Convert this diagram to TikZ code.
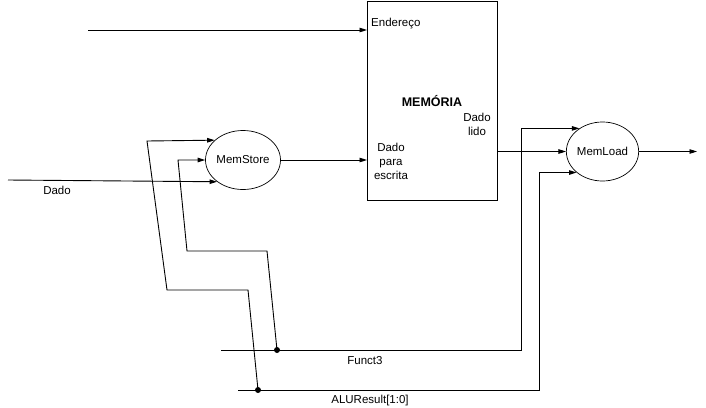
\documentclass[tikz,border=0pt]{standalone}
\usepackage{fontspec}
\setmainfont{Liberation Sans}
\usetikzlibrary{arrows.meta,shapes.geometric}
\begin{document}
\begin{tikzpicture}[x=1pt,y=-1pt,
 line/.style={draw=black,line width=0.9pt},
 arr/.style={line,-{Triangle[length=7.5pt,width=4.5pt]}},
 oval/.style={ellipse,draw,line width=0.7pt,minimum width=71pt,minimum height=59pt,inner sep=0pt,font=\fontsize{11.5}{13.5}\selectfont},
 lbl/.style={font=\fontsize{11.5}{14}\selectfont,inner sep=0pt,align=center},
 dot/.style={circle,fill=black,inner sep=0pt,minimum size=6pt}]
\useasboundingbox (0,0) rectangle (706,407);
% memory block
\node[draw,line width=0.9pt,minimum width=130pt,minimum height=199pt,inner sep=0pt,anchor=north west] (mem) at (367,1) {};
\node[lbl,anchor=west] (endt) at (371,24) {Endereço};
\node[lbl,font=\bfseries\fontsize{12.5}{14}\selectfont] (memt) at (432,101) {MEMÓRIA};
\node[lbl] (dl) at (477,124.5) {Dado\\lido};
\node[lbl] (dpe) at (391,161) {Dado\\para\\escrita};
% ellipses
\node[oval] (ms) at (243,160) {MemStore};
\node[oval] (ml) at (602.5,151.5) {MemLoad};
% coordinates
\coordinate (ein) at (88,30);
\coordinate (din) at (8,180);
\coordinate (a0) at (147,141);
\coordinate (a1) at (167,290);
\coordinate (a2) at (248,290);
\coordinate (b0) at (178,160);
\coordinate (b1) at (187,251);
\coordinate (b2) at (267,251);
\coordinate (f0) at (221,350);
\coordinate (f1) at (521,350);
\coordinate (g0) at (238,390);
\coordinate (g1) at (539,390);
\coordinate (out) at (697,151.5);
\node[dot] (dA) at (258,390) {};
\node[dot] (dB) at (277,350) {};
% connectors
\draw[arr] (ein) -- (ein -| mem.west);
\draw[arr] (din) -- (ms.220);
\draw[arr] (dA.center) -- (a2) -- (a1) -- (a0) -- (ms.145);
\draw[arr] (dB.center) -- (b2) -- (b1) -- (b0) -- (ms.west);
\draw[arr] (ms.east) -- (ms.east -| mem.west);
\draw[arr] (mem.east |- ml.west) -- (ml.west);
\draw[arr] (f0) -- (f1) -- (f1 |- ml.135) -- (ml.135);
\draw[arr] (g0) -- (g1) -- (g1 |- ml.219) -- (ml.219);
\draw[arr] (ml.east) -- (out);
% labels
\node[lbl] (dadot) at (57,190) {Dado};
\node[lbl] (f3t) at (365,361) {Funct3};
\node[lbl] (alut) at (370,401) {ALUResult[1:0]};
\end{tikzpicture}
\end{document}
